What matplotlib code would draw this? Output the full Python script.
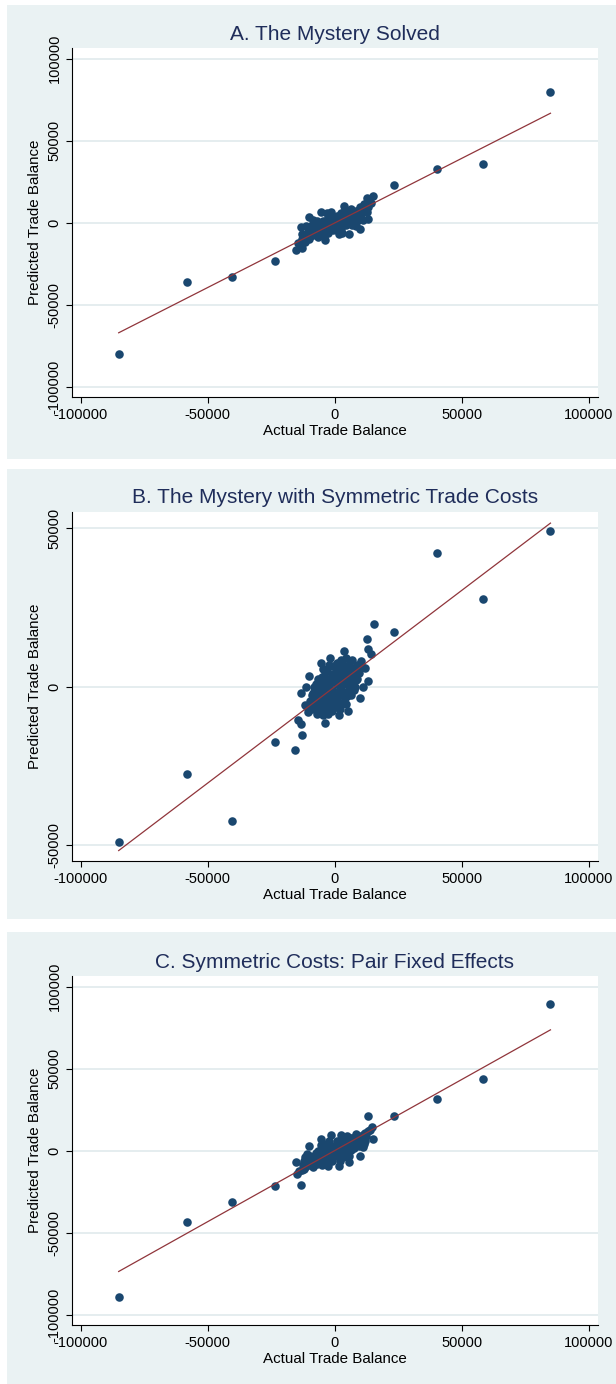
import matplotlib
matplotlib.use("Agg")
import matplotlib.pyplot as plt
from matplotlib.patches import Rectangle

plt.rcParams['font.family'] = ['Liberation Sans', 'DejaVu Sans']

# ---------------- data ----------------
titles = ["A. The Mystery Solved",
          "B. The Mystery with Symmetric Trade Costs",
          "C. Symmetric Costs: Pair Fixed Effects"]
xlabel = "Actual Trade Balance"
ylabel = "Predicted Trade Balance"

x_ticks = [-100000, -50000, 0, 50000, 100000]
x_ticklabels = ["-100000", "-50000", "0", "50000", "100000"]
yA_ticks = [-100000, -50000, 0, 50000, 100000]
yA_ticklabels = ["-100000", "-50000", "0", "50000", "100000"]
yB_ticks = [-50000, 0, 50000]
yB_ticklabels = ["-50000", "0", "50000"]
yC_ticks = [-100000, -50000, 0, 50000, 100000]
yC_ticklabels = ["-100000", "-50000", "0", "50000", "100000"]

# large trade-balance observations (same actual values in all panels)
x_out = [-85000, -58300, -40200, -23300, 23300, 40200, 58300, 85000]
yA_out = [-79800, -35900, -33100, -22900, 22900, 33100, 35900, 79800]
yB_out = [-49100, -27600, -42400, -17400, 17400, 42400, 27600, 49100]
yC_out = [-89300, -43600, -31500, -21300, 21300, 31500, 43600, 89300]

# central cluster, panel A
xA_core = [15000, 12700, 14500, 11600, 13200, 11300, 10100, 5500, 1600, 3600,
           5200, 7500, 9500, 10500, 8000, 6000, 3500, 1500, 500, 2500,
           4500, 7000, 9000, 12000, 2500, 800, 4000, 6500, 8500, 3000,
           10000, 12700, 1000, 2000, 3000, 4000, 5000, 6000, 7500, 8500,
           9500, 11000, 11500, 13000, 2000, 7000, 0, 5500, 10500, 3500,
           2000, 5000, 6500, 8500, 3500, 1000,
           -15000, -12700, -14500, -11600, -13200, -11300, -10100, -5500, -1600, -3600,
           -5200, -7500, -9500, -10500, -8000, -6000, -3500, -1500, -500, -2500,
           -4500, -7000, -9000, -12000, -2500, -800, -4000, -6500, -8500, -3000,
           -10000, -12700, -1000, -2000, -3000, -4000, -5000, -6000, -7500, -8500,
           -9500, -11000, -11500, -13000, -2000, -7000, 0, -5500, -10500, -3500,
           -2000, -5000, -6500, -8500, -3500, -1000]
yA_core = [16400, 15000, 12000, 11500, 2400, 2000, -3600, -6500, -6800, 10500,
           6000, 6500, 8000, 5500, 3000, 2000, 3500, 1500, -2500, -3500,
           -1500, 0, 1000, 8500, 6000, 4000, 8000, 8500, -2000, -6000,
           10000, 6900, -1000, 500, 2000, 500, 4000, 4500, 3000, 5500,
           3500, 6500, 9500, 10000, -5000, -1500, 1000, 1000, 2500, 6000,
           3000, 2500, 6000, 7500, 5000, -4500,
           -16400, -15000, -12000, -11500, -2400, -2000, 3600, 6500, 6800, -10500,
           -6000, -6500, -8000, -5500, -3000, -2000, -3500, -1500, 2500, 3500,
           1500, 0, -1000, -8500, -6000, -4000, -8000, -8500, 2000, 6000,
           -10000, -6900, 1000, -500, -2000, -500, -4000, -4500, -3000, -5500,
           -3500, -6500, -9500, -10000, 5000, 1500, -1000, -1000, -2500, -6000,
           -3000, -2500, -6000, -7500, -5000, 4500]

# central cluster, panel B
xB_core = [15400, 12800, 13200, 14400, 3600, 1800, 5300, 10000, 13200, 11100,
           11800, 7500, 9000, 6000, 4000, 7000, 2000, 3000, 5000, 1000,
           8500, 2500, 10500, 6500, 500, 4500, 3500, 1500, 6000, 9500,
           500, 2000, 4500, 10700, 8700, 1000, 2500, 4000, 5500, 3000,
           1000, 5500, 7500, 8000, 4000, 2000, 6500, 3000, 0, 7000,
           9000, 500, 1500, 3500, 5000, 6500, 2500, 4500, 8000, 5500,
           500, 3500, 7000, 1500,
           -15400, -12800, -13200, -14400, -3600, -1800, -5300, -10000, -13200, -11100,
           -11800, -7500, -9000, -6000, -4000, -7000, -2000, -3000, -5000, -1000,
           -8500, -2500, -10500, -6500, -500, -4500, -3500, -1500, -6000, -9500,
           -500, -2000, -4500, -10700, -8700, -1000, -2500, -4000, -5500, -3000,
           -1000, -5500, -7500, -8000, -4000, -2000, -6500, -3000, 0, -7000,
           -9000, -500, -1500, -3500, -5000, -6500, -2500, -4500, -8000, -5500,
           -500, -3500, -7000, -1500]
yB_core = [19800, 15200, 11800, 10500, 11400, -9000, -7500, -3500, 1900, 0,
           5800, -1000, 7000, 8000, 6000, 4000, 4000, 1000, -3000, -4000,
           2000, 8500, 8000, 6000, 6000, -5500, -1500, 2000, 500, 4500,
           -6500, -7000, 9000, 6300, 5300, 1000, -2500, 3000, 2000, 5000,
           7500, 4500, 6000, 0, -3500, -1000, -2500, -5000, 3000, 8500,
           2500, -1500, 4500, 3500, 6500, 3000, 0, 1000, 5000, -1000,
           1500, 7000, 1500, -2500,
           -19800, -15200, -11800, -10500, -11400, 9000, 7500, 3500, -1900, 0,
           -5800, 1000, -7000, -8000, -6000, -4000, -4000, -1000, 3000, 4000,
           -2000, -8500, -8000, -6000, -6000, 5500, 1500, -2000, -500, -4500,
           6500, 7000, -9000, -6300, -5300, -1000, 2500, -3000, -2000, -5000,
           -7500, -4500, -6000, 0, 3500, 1000, 2500, 5000, -3000, -8500,
           -2500, 1500, -4500, -3500, -6500, -3000, 0, -1000, -5000, 1000,
           -1500, -7000, -1500, 2500]

# central cluster, panel C
xC_core = [13100, 14800, 15200, 11700, 10100, 5500, 1600, 12000, 10000, 8000,
           6000, 4000, 2000, 500, 11000, 9000, 7000, 5000, 3000, 1000,
           13000, 7000, 5000, 3000, 1000, 8500, 12500, 6500, 3500, 11000,
           14000, 2500, 5000, 1500, 2500, 4500, 6000, 8000, 10000, 9000,
           11500, 4000, 2000, 6000, 3500, 1000, 5500, 2000, 7500, 9500,
           12000, 3000, 5000, 7000, 8500, 2000, 4000, 10500,
           -13100, -14800, -15200, -11700, -10100, -5500, -1600, -12000, -10000, -8000,
           -6000, -4000, -2000, -500, -11000, -9000, -7000, -5000, -3000, -1000,
           -13000, -7000, -5000, -3000, -1000, -8500, -12500, -6500, -3500, -11000,
           -14000, -2500, -5000, -1500, -2500, -4500, -6000, -8000, -10000, -9000,
           -11500, -4000, -2000, -6000, -3500, -1000, -5500, -2000, -7500, -9500,
           -12000, -3000, -5000, -7000, -8500, -2000, -4000, -10500]
yC_core = [21200, 14400, 7100, 4100, -3000, -6900, -9400, 11000, 9000, 7000,
           5000, 3500, 2000, 0, 8000, 5500, 3000, 1000, -1000, -3000,
           12000, 8000, 6000, 4500, 3000, 10000, 9000, 500, -4000, 2000,
           12500, 9500, 9000, 1000, -500, 2000, 3000, 4500, 6000, 8000,
           10000, 5500, 4000, 7500, 7500, 6000, -3500, -6000, 1500, 3000,
           6000, 2500, 3500, 5500, 6500, 500, -2000, 7500,
           -21200, -14400, -7100, -4100, 3000, 6900, 9400, -11000, -9000, -7000,
           -5000, -3500, -2000, 0, -8000, -5500, -3000, -1000, 1000, 3000,
           -12000, -8000, -6000, -4500, -3000, -10000, -9000, -500, 4000, -2000,
           -12500, -9500, -9000, -1000, 500, -2000, -3000, -4500, -6000, -8000,
           -10000, -5500, -4000, -7500, -7500, -6000, 3500, 6000, -1500, -3000,
           -6000, -2500, -3500, -5500, -6500, -500, 2000, -7500]

# fitted lines (end points)
x_fit = [-85000, 85000]
yA_fit = [-66800, 66800]
yB_fit = [-51700, 51700]
yC_fit = [-73600, 73600]

# ---------------- style ----------------
BG = "#EAF2F3"
GRID = "#E3ECEE"
NAVY = "#1A476F"
FIT = "#90353B"
TITLE_C = "#1F2D5A"

W, H = 616, 1384
fig = plt.figure(figsize=(W / 100, H / 100), dpi=100)
fig.patch.set_facecolor("white")

# panel backgrounds (pixel rows: top, bottom)
panels_px = [(5, 459), (469, 919), (932, 1384)]
for top, bot in panels_px:
    fig.add_artist(Rectangle((6.7 / W, 1 - bot / H), 1 - 6.7 / W, (bot - top) / H,
                             transform=fig.transFigure, facecolor=BG,
                             edgecolor="none", zorder=-5))

# axes boxes in pixels (top, bottom)
axes_px = [(48, 396.7), (511.7, 860.7), (976, 1325)]
left_px, right_px = 71.7, 597.7

ylims = [(-105700, 106500), (-54900, 55300), (-106200, 106400)]
xlim = (-103500, 103600)
yticks_all = [(yA_ticks, yA_ticklabels), (yB_ticks, yB_ticklabels), (yC_ticks, yC_ticklabels)]
core = [(xA_core, yA_core), (xB_core, yB_core), (xC_core, yC_core)]
outs = [yA_out, yB_out, yC_out]
fits = [yA_fit, yB_fit, yC_fit]

for i in range(3):
    top, bot = axes_px[i]
    ax = fig.add_axes([left_px / W, 1 - bot / H, (right_px - left_px) / W, (bot - top) / H])
    ax.set_facecolor("white")
    ax.set_xlim(*xlim)
    ax.set_ylim(*ylims[i])

    for s in ["top", "right"]:
        ax.spines[s].set_visible(False)
    for s in ["left", "bottom"]:
        ax.spines[s].set_color("black")
        ax.spines[s].set_linewidth(0.8)

    ax.set_axisbelow(True)
    ax.yaxis.grid(True, color=GRID, lw=1.3)
    ax.xaxis.grid(False)

    ax.set_xticks(x_ticks)
    ax.set_xticklabels(x_ticklabels)
    yt, ytl = yticks_all[i]
    ax.set_yticks(yt)
    ax.set_yticklabels(ytl, rotation=90, va="center")
    ax.tick_params(axis="both", direction="out", length=4.3, width=0.8,
                   color="black", labelsize=10.5)
    ax.tick_params(axis="x", pad=3.5)
    ax.tick_params(axis="y", pad=3.0)

    cx, cy = core[i]
    ax.scatter(cx, cy, s=38, color=NAVY, linewidths=0, zorder=2)
    ax.scatter(x_out, outs[i], s=38, color=NAVY, linewidths=0, zorder=2)
    ax.plot(x_fit, fits[i], color=FIT, lw=0.9, zorder=3)

    ax.set_xlabel(xlabel, fontsize=10.9, va="center")
    ax.xaxis.set_label_coords(0.5, -0.097)
    ax.set_ylabel(ylabel, fontsize=10.9, va="center", ha="center")
    ax.yaxis.set_label_coords(-0.0707, 0.5)

    ax.text(0.5, 1.040, titles[i], transform=ax.transAxes, ha="center",
            va="center", fontsize=15, color=TITLE_C)

fig.savefig("out.png", dpi=100, facecolor=fig.get_facecolor())
